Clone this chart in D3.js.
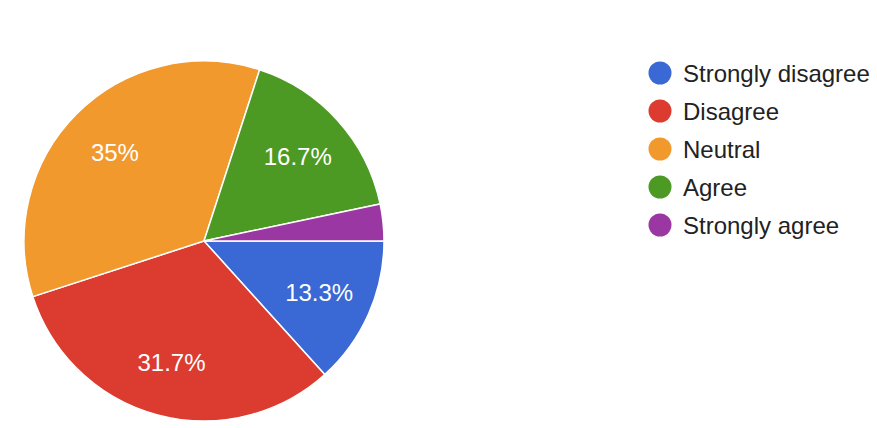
<!DOCTYPE html>
<html lang="en">
<head>
  <meta charset="UTF-8">
  <script src="https://d3js.org/d3.v7.min.js"></script>
  <style>
    body { margin: 0; background: white; font-family: Arial, 'Liberation Sans', sans-serif; }
    .slice { stroke: white; stroke-width: 1.5px; }
  </style>
</head>
<body>
  <svg id="chart" width="877" height="428"></svg>
  <script>
    // data
    const categories = ["Strongly disagree", "Disagree", "Neutral", "Agree", "Strongly agree"];
    const percents = [13.3, 31.7, 35, 16.7, 3.3];
    const labels = ["13.3%", "31.7%", "35%", "16.7%", ""];
    const colors = ["#3a68d4", "#dc3b2f", "#f2992e", "#4c9a24", "#9b37a3"];

    const svg = d3.select("#chart");
    const cx = 204, cy = 241, r = 180;

    const g = svg.append("g").attr("transform", "translate(" + cx + "," + cy + ")");

    const color = d3.scaleOrdinal().domain(categories).range(colors);

    // start at 3 o'clock, going clockwise
    const pie = d3.pie().sort(null).value(d => d.v)
      .startAngle(Math.PI / 2).endAngle(Math.PI / 2 + 2 * Math.PI);
    const data = categories.map((c, i) => ({ cat: c, v: percents[i], label: labels[i] }));
    const arcs = pie(data);

    const arc = d3.arc().innerRadius(0).outerRadius(r);
    const labelArc = d3.arc().innerRadius(r * 0.7).outerRadius(r * 0.7);

    g.selectAll("path.slice").data(arcs)
      .join("path")
      .attr("class", "slice")
      .attr("d", arc)
      .attr("fill", d => color(d.data.cat));

    g.selectAll("text.plabel").data(arcs)
      .join("text")
      .attr("class", "plabel")
      .attr("transform", d => "translate(" + labelArc.centroid(d) + ")")
      .attr("text-anchor", "middle")
      .attr("dy", "0.36em")
      .style("font-size", "24px")
      .style("fill", "white")
      .text(d => d.data.label);

    // legend
    const legend = svg.append("g").attr("transform", "translate(660,73)");
    categories.forEach((d, i) => {
      legend.append("circle")
        .attr("cx", 0)
        .attr("cy", 38 * i)
        .attr("r", 11.5)
        .style("fill", color(d));
      legend.append("text")
        .attr("x", 23)
        .attr("y", 38 * i)
        .attr("dy", "0.36em")
        .style("font-size", "24px")
        .style("fill", "#222")
        .text(d);
    });
  </script>
</body>
</html>
